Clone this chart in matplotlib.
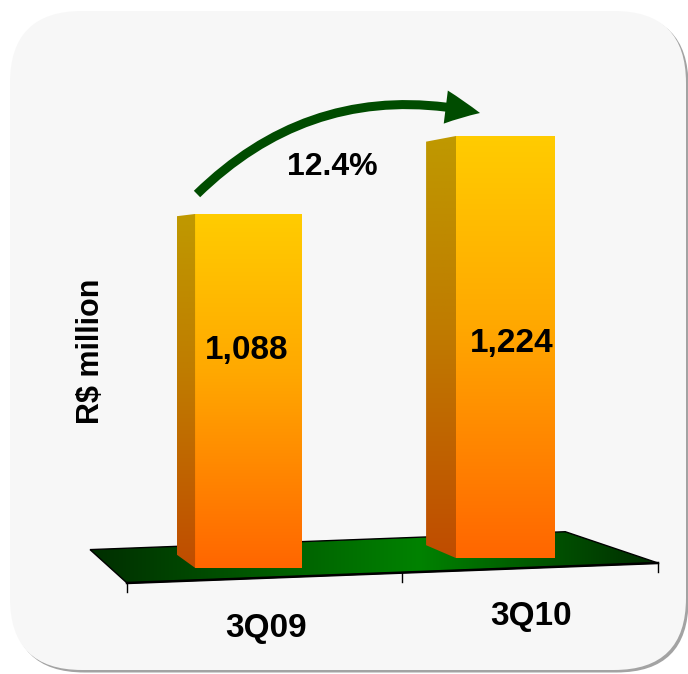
import matplotlib
matplotlib.use('Agg')
import matplotlib.pyplot as plt
import numpy as np
from matplotlib.patches import FancyBboxPatch, Polygon, FancyArrowPatch
from matplotlib.colors import LinearSegmentedColormap

plt.rcParams['font.family'] = ['Liberation Sans', 'DejaVu Sans']

# data
quarters = ['3Q09', '3Q10']
revenue = [1088, 1224]          # R$ million
growth = '12.4%'
y_label = 'R$ million'

W, H = 688, 674
fig = plt.figure(figsize=(W / 100, H / 100), dpi=100)
fig.patch.set_facecolor('white')

# pixel layer: card, floor, arrow
bg = fig.add_axes([0, 0, 1, 1])
bg.axis('off')

# value layer: x = quarter index, y = R$ million
ax = fig.add_axes([0, 0, 1, 1])
ax.axis('off')
ax.patch.set_alpha(0)
ax.set_xlim(-0.967, 1.710)
ax.set_ylim(285.9, 1461.1)
bg.set_xlim(0, W)
bg.set_ylim(H, 0)

# rounded card with a small shadow
rs = 'round,pad=0,rounding_size=72'
bg.add_patch(FancyBboxPatch((12.5, 13.5), 676, 659, boxstyle=rs, fc='#a3a3a3', ec='none'))
bg.add_patch(FancyBboxPatch((10, 11), 676, 659, boxstyle=rs, fc='#f7f7f7', ec='none'))

# perspective: everything recedes towards one vanishing point (pixels)
vp = np.array([-225.0, 265.0])

def recede(p, f):
    p = np.asarray(p, dtype=float)
    return p + f * (vp - p)

# green floor
fl = np.array([127.0, 583.0])
fr = np.array([658.0, 563.0])
bl, br = recede(fl, 0.105), recede(fr, 0.105)
floor = Polygon([fl, fr, br, bl], closed=True, fc='none', ec='black', lw=1.0, zorder=3)
bg.add_patch(floor)
floor_cmap = LinearSegmentedColormap.from_list(
    'floor', [(0, '#002e00'), (0.58, '#008200'), (1, '#002c00')])
im = bg.imshow(np.linspace(0, 1, 256).reshape(1, -1), cmap=floor_cmap,
               extent=(bl[0], fr[0], fl[1], br[1]), aspect='auto', zorder=2)
im.set_clip_path(floor)
bg.plot([fl[0], fr[0]], [fl[1], fr[1]], color='black', lw=1.8, zorder=4)

# category ticks on the front edge
for tx in [fl[0], 402, fr[0]]:
    ty = fl[1] + (fr[1] - fl[1]) * (tx - fl[0]) / (fr[0] - fl[0])
    bg.plot([tx, tx], [ty, ty + 9], color='black', lw=1.0, zorder=4)

# bars
xpos = np.arange(len(quarters))
bar_w = [0.416, 0.385]
base = 471 + 17 * xpos          # floor line under the bars (tilted by the perspective)
rects = ax.bar(xpos, np.array(revenue) - base, width=bar_w, bottom=base,
               color='none', edgecolor='none', zorder=3)

front_cmap = LinearSegmentedColormap.from_list(
    'front', [(0, '#ff6600'), (0.55, '#ffa800'), (1, '#ffcc00')])
side_cmap = LinearSegmentedColormap.from_list(
    'side', [(0, '#c04c00'), (0.55, '#bf7c00'), (1, '#bf9900')])
grad = np.linspace(0, 1, 256).reshape(-1, 1)

to_disp = ax.transData.transform
to_data = ax.transData.inverted().transform
vp_disp = bg.transData.transform(vp)

for r in rects:
    x0, y0, w, h = r.get_x(), r.get_y(), r.get_width(), r.get_height()
    im = ax.imshow(grad, cmap=front_cmap, extent=(x0, x0 + w, y0, y0 + h),
                   origin='lower', aspect='auto', zorder=3)
    im.set_clip_path(r)

    # left side face, pulled back towards the vanishing point
    top = to_disp((x0, y0 + h))
    bot = to_disp((x0, y0))
    f = 0.044
    btop = top + f * (vp_disp - top)
    bbot = bot + f * (vp_disp - bot)
    pts = to_data(np.array([top, bot, bbot, btop]))
    side = Polygon(pts, closed=True, fc='none', ec='none', zorder=3)
    ax.add_patch(side)
    im = ax.imshow(grad, cmap=side_cmap,
                   extent=(pts[:, 0].min(), pts[:, 0].max(), y0, y0 + h),
                   origin='lower', aspect='auto', zorder=3)
    im.set_clip_path(side)

# growth arrow
arrow = FancyArrowPatch((197, 194), (480, 113), connectionstyle='arc3,rad=-0.27',
                        arrowstyle='simple,head_length=2.5,head_width=2.4,tail_width=0.65',
                        mutation_scale=10, fc='#004c00', ec='none',
                        shrinkA=0, shrinkB=0, zorder=5)
bg.add_patch(arrow)

# texts (pixel positions, on top of the bars)
txt = dict(transform=bg.transData, fontweight='bold', color='black', zorder=6)
ax.text(332, 175, growth, fontsize=23, ha='center', va='baseline', **txt)
val_pos = [(247, 359), (512, 352)]
for v, (px, py) in zip(revenue, val_pos):
    ax.text(px, py, f'{v:,}', fontsize=24, ha='center', va='baseline', **txt)
lab_pos = [(266, 637), (531, 625)]
for q, (px, py) in zip(quarters, lab_pos):
    ax.text(px, py, q, fontsize=24, ha='center', va='baseline', **txt)
ax.text(99, 351, y_label, fontsize=22, rotation=90, rotation_mode='anchor',
        ha='center', va='baseline', **txt)

bg.set_xlim(0, W)
bg.set_ylim(H, 0)
ax.set_xlim(-0.967, 1.710)
ax.set_ylim(285.9, 1461.1)

fig.savefig('out.png', dpi=100)
